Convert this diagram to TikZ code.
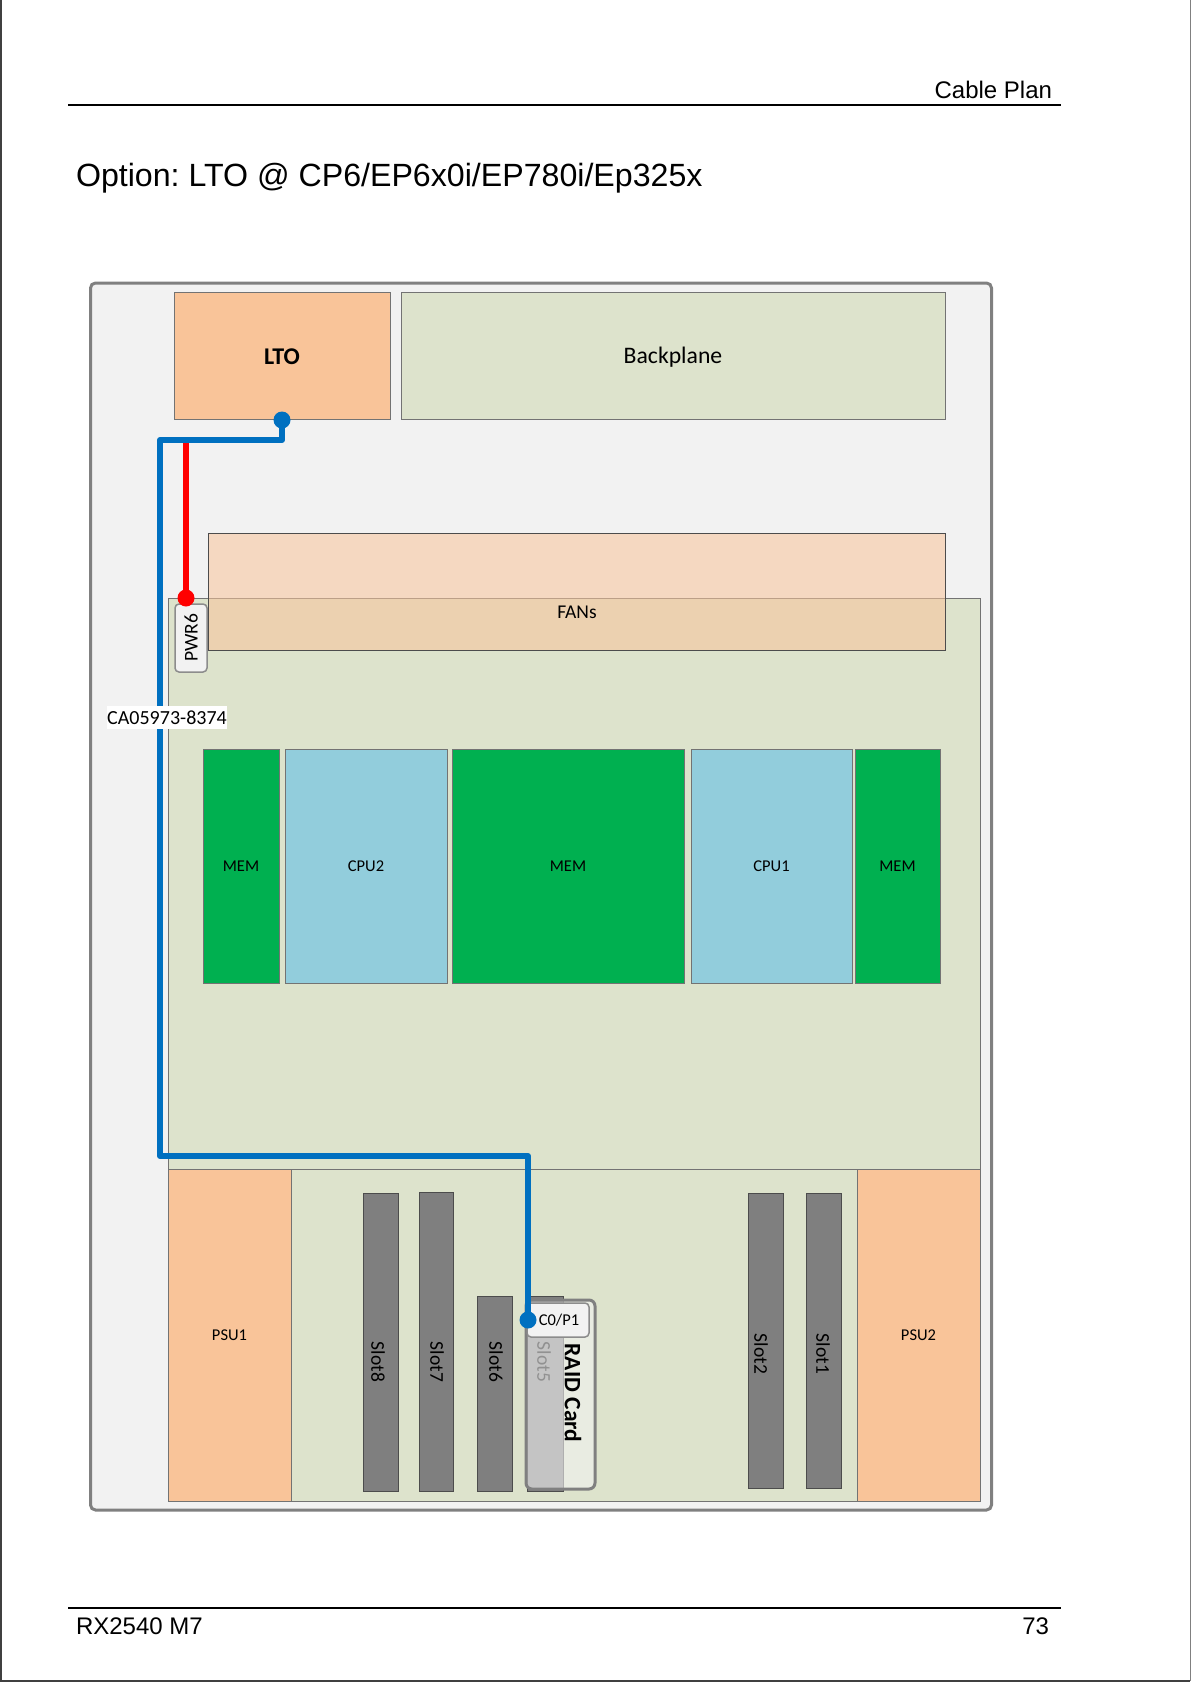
\documentclass[tikz,border=0pt]{standalone}
\usepackage{fontspec}
\setmainfont{Carlito}
\newfontfamily\pagefont{Liberation Sans}
\usetikzlibrary{positioning,calc}

\definecolor{lightorange}{HTML}{F9C499}
\definecolor{boardgreen}{HTML}{DDE3CC}
\definecolor{memgreen}{HTML}{00B050}
\definecolor{cpublue}{HTML}{92CDDC}
\definecolor{slotgray}{HTML}{7F7F7F}
\definecolor{wireblue}{HTML}{0070C0}
\definecolor{panelgray}{HTML}{F2F2F2}

\tikzset{
  box/.style={draw=black!55,line width=0.8pt,inner sep=0pt,outer sep=0pt},
  plain/.style={inner sep=0pt,outer sep=0pt,font=\fontsize{16.5}{18}\selectfont},
  pagetext/.style={inner sep=0pt,outer sep=0pt,font=\pagefont\fontsize{24}{28}\selectfont},
  slotbox/.style={box,fill=slotgray,draw=black!70,minimum width=#1},
  slotlabel/.style={plain,rotate=-90,font=\fontsize{19.5}{22}\selectfont},
  tag/.style={draw=black!45,line width=1.5pt,rounded corners=4pt,fill=panelgray,inner sep=0pt,outer sep=0pt},
  wire/.style={line width=6pt,line join=round},
  pin/.style={circle,inner sep=0pt,outer sep=0pt,minimum size=17pt}
}

\begin{document}
\frenchspacing
\begin{tikzpicture}[x=1pt,y=-1pt]
  \useasboundingbox (0,0) rectangle (1191,1684);
  % page furniture
  \coordinate (frameTL) at (1,0);
  \coordinate (frameBL) at (1,1681);
  \coordinate (frameBR) at (1190,1681);
  \coordinate (frameTR) at (1190,0);
  \draw[line width=1.2pt,black!75] (frameTL) -- (frameBL) -- (frameBR);
  \draw[line width=0.8pt,black!50] (frameBR) -- (frameTR);
  \coordinate (headL) at (68,105);
  \coordinate (headR) at (1061,105);
  \coordinate (footL) at (68,1608);
  \coordinate (footR) at (1061,1608);
  \draw[line width=1.5pt] (headL) -- (headR);
  \draw[line width=1.5pt] (footL) -- (footR);
  \node[pagetext,anchor=base east] (header) at (1052,98) {Cable Plan};
  \node[pagetext,anchor=base west,font=\pagefont\fontsize{32.15}{36}\selectfont] (title) at (76,186) {Option: LTO @ CP6/EP6x0i/EP780i/Ep325x};
  \node[pagetext,anchor=base west] (model) at (76,1634) {RX2540 M7};
  \node[pagetext,anchor=base east] (page) at (1049,1634) {73};

  % chassis
  \node[draw=black!50,line width=3pt,fill=panelgray,rounded corners=5pt,minimum width=901pt,minimum height=1227pt,inner sep=0pt] (chassis) at (541,896.5) {};
  \node[box,fill=lightorange,minimum width=216pt,minimum height=127pt,font=\bfseries\fontsize{24}{26}\selectfont] (lto) at (282,356) {\raisebox{-1pt}[\height][\depth]{LTO}};
  \node[box,fill=boardgreen,minimum width=544pt,minimum height=127pt,font=\fontsize{23.7}{26}\selectfont] (backplane) at (673,356) {\raisebox{-1pt}[\height][\depth]{Backplane}};
  \node[box,fill=boardgreen,minimum width=812pt,minimum height=571pt] (mainboard) at (574,884) {};
  \node[box,fill=boardgreen,minimum width=812pt,minimum height=332pt] (ioboard) at (574,1335.5) {};
  \node[box,fill=lightorange,draw=black!70,fill opacity=0.55,minimum width=737pt,minimum height=117pt] (fans) at (576.5,592) {};
  \node[plain,font=\fontsize{19.5}{22}\selectfont] (fanslabel) at (577,612) {FANs};

  % cpu and memory
  \node[box,plain,fill=memgreen,minimum width=76pt,minimum height=234pt] (memleft) at (241,866) {MEM};
  \node[box,plain,fill=cpublue,minimum width=162pt,minimum height=234pt] (cpu2) at (366,866) {CPU2};
  \node[box,plain,fill=memgreen,minimum width=232pt,minimum height=234pt] (memmid) at (568,866) {MEM};
  \node[box,plain,fill=cpublue,minimum width=161pt,minimum height=234pt] (cpu1) at (771.5,866) {CPU1};
  \node[box,plain,fill=memgreen,minimum width=85pt,minimum height=234pt] (memright) at (897.5,866) {MEM};

  % power supplies
  \node[box,plain,fill=lightorange,minimum width=123pt,minimum height=332pt] (psu1) at (229.5,1335.5) {PSU1};
  \node[box,plain,fill=lightorange,minimum width=123pt,minimum height=332pt] (psu2) at (918.5,1335.5) {PSU2};

  % slots
  \foreach \sname/\sx/\tx/\sy/\sw/\sh/\ty in {Slot8/380.5/378/1342.5/35/298/1362,Slot7/436/437/1341.5/34/299/1362,Slot6/494.5/496/1393.5/35/195/1362,Slot5/545/544/1393.5/36/195/1362,Slot2/765.5/761/1341/35/295/1354,Slot1/823.5/823/1341/35/295/1354}
  {
    \node[slotbox=\sw pt,minimum height=\sh pt] (box\sname) at (\sx,\sy) {};
    \node[slotlabel] (text\sname) at (\tx,\ty) {\sname};
  }

  % raid card sits over slot 5
  \node[draw=black!50,line width=3pt,rounded corners=6pt,fill=panelgray,fill opacity=0.6,minimum width=69pt,minimum height=189pt,inner sep=0pt] (raid) at (560.5,1394.5) {};
  \node[plain,rotate=-90,font=\bfseries\fontsize{23.5}{26}\selectfont] (raidlabel) at (573,1393) {RAID Card};
  \node[tag,plain,minimum width=62pt,minimum height=34pt] (c0p1) at (558,1320) {\hspace*{2pt}C0/P1};

  % pwr connector and cables
  \node[tag,rotate=90,minimum width=68pt,minimum height=32pt,font=\fontsize{19.5}{22}\selectfont] (pwr6) at (191,638) {PWR6};
  \node[pin,fill=red] (redpin) at (186,598) {};
  \node[pin,fill=wireblue] (ltopin) at (282,420) {};
  \node[pin,fill=wireblue] (raidpin) at (528,1320) {};
  \coordinate (redtop) at (186,440);
  \coordinate (bendtop) at (160,440);
  \coordinate (bendbottom) at (160,1156);
  \draw[wire,red] (redpin.center) -- (redtop);
  \draw[wire,wireblue] (ltopin.center) |- (bendtop) -- (bendbottom) -| (raidpin.center);
  \node[plain,fill=white,font=\fontsize{20}{22}\selectfont,minimum width=120pt,minimum height=23pt] (cablelabel) at (167,717.5) {CA05973-8374};
\end{tikzpicture}
\end{document}
